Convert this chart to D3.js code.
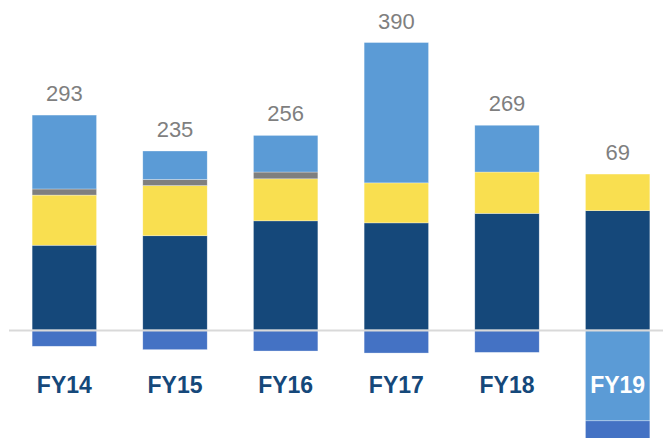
<!DOCTYPE html>
<html>
<head>
<meta charset="utf-8">
<script src="https://cdn.jsdelivr.net/npm/d3@7"></script>
<style>
  body { margin: 0; background: #fff; }
  svg { display: block; font-family: "Liberation Sans", Arial, sans-serif; }
</style>
</head>
<body>
<div id="chart"></div>
<script>
// datos
const years = ["FY14", "FY15", "FY16", "FY17", "FY18", "FY19"];
const navy = [125, 139, 161, 158, 172, 176];
const yellow = [74, 74, 62, 59, 61, 54];
const grey = [9, 9, 10, 0, 0, 0];
const lightBlue = [109, 42, 54, 207, 69, -134];
const blue = [-24, -29, -31, -34, -33, -27];
const totals = [293, 235, 256, 390, 269, 69];

const width = 663, height = 438;
const keys = ["navy", "yellow", "grey", "lightBlue", "blue"];
const colors = {
    navy: "#15487a",
    yellow: "#f9df50",
    grey: "#7f7f7f",
    lightBlue: "#5b9bd6",
    blue: "#4472c4"
};

const rows = years.map((y, i) => ({
    year: y,
    navy: navy[i],
    yellow: yellow[i],
    grey: grey[i],
    lightBlue: lightBlue[i],
    blue: blue[i],
    total: totals[i]
}));

const series = d3.stack()
    .keys(keys)
    .offset(d3.stackOffsetDiverging)(rows);

const svg = d3.select("#chart").append("svg")
    .attr("width", width)
    .attr("height", height);

const x = d3.scaleBand()
    .domain(years)
    .range([9, 673])
    .paddingInner(0.418)
    .paddingOuter(0.209);

const y = d3.scaleLinear()
    .domain([0, 400])
    .range([330, 58.8]);

svg.append("g")
  .selectAll("g")
  .data(series)
  .join("g")
    .attr("fill", d => colors[d.key])
  .selectAll("rect")
  .data(d => d)
  .join("rect")
    .attr("x", d => x(d.data.year))
    .attr("y", d => y(Math.max(d[0], d[1])))
    .attr("width", x.bandwidth())
    .attr("height", d => Math.abs(y(d[0]) - y(d[1])))
    .attr("stroke", "#ffffff")
    .attr("stroke-opacity", 0.5)
    .attr("stroke-width", 0.6);

// linea base
svg.append("line")
    .attr("x1", 9)
    .attr("x2", width)
    .attr("y1", y(0) + 0.5)
    .attr("y2", y(0) + 0.5)
    .attr("stroke", "#d9d9d9")
    .attr("stroke-width", 2);

// totales arriba de cada barra
const topOf = d => d3.sum(keys, k => Math.max(0, d[k]));
svg.append("g")
  .selectAll("text")
  .data(rows)
  .join("text")
    .attr("x", d => x(d.year) + x.bandwidth() / 2)
    .attr("y", d => y(topOf(d)) - 14)
    .attr("text-anchor", "middle")
    .attr("fill", "#7f7f7f")
    .attr("font-size", 22)
    .text(d => d.total);

// etiquetas de los años
svg.append("g")
  .selectAll("text")
  .data(rows)
  .join("text")
    .attr("x", d => x(d.year) + x.bandwidth() / 2)
    .attr("y", 392.5)
    .attr("text-anchor", "middle")
    .attr("font-size", 23)
    .attr("font-weight", "bold")
    .attr("fill", d => d.lightBlue < 0 ? "#ffffff" : "#15487a")
    .text(d => d.year);
</script>
</body>
</html>
